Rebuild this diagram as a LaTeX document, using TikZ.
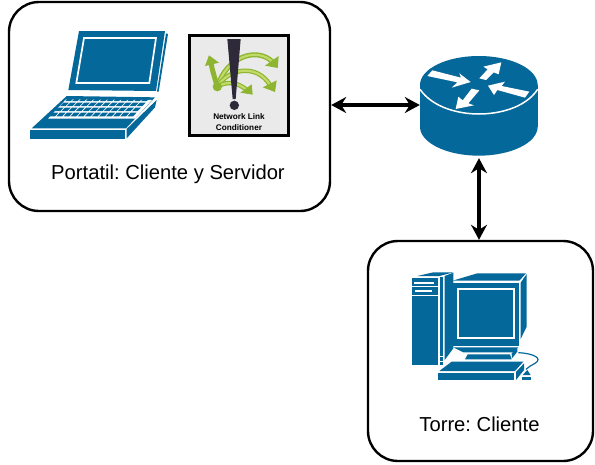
\documentclass[tikz,border=0pt]{standalone}
\usepackage{fontspec}
\setmainfont{Liberation Sans}
\usetikzlibrary{arrows.meta}
\definecolor{cisco}{HTML}{05689A}
\definecolor{lime1}{HTML}{8DB52F}
\definecolor{lime2}{HTML}{C2DA6A}
\definecolor{nlcgrey}{HTML}{EAEAEA}
\definecolor{nlcdark}{HTML}{2E2A3A}
\tikzset{
  x=1pt,y=-1pt,
  hostbox/.style={draw=black,line width=2.4pt,rounded corners=30pt,fill=white,inner sep=0pt},
  hostlabel/.style={font=\fontsize{20.2}{22}\selectfont,inner sep=0pt},
  link/.style={line width=3.1pt,{Stealth[length=15pt,width=16pt,inset=5pt]}-{Stealth[length=15pt,width=16pt,inset=5pt]}},
  dk/.style={fill=cisco,draw=none},
  wh/.style={fill=white,draw=none},
  icon/.style={scale=0.33333},
  grn/.style={draw=lime1,line width=5pt,line cap=round},
  grni/.style={draw=lime2,line width=2.2pt,line cap=round},
  grnh/.style={fill=lime1,draw=none}
}
\begin{document}
\frenchspacing
\begin{tikzpicture}
\useasboundingbox (0,0) rectangle (595,464);
% boxes
\node[hostbox,minimum width=321pt,minimum height=209pt] (portatil) at (169.5,106.5) {};
\node[hostbox,minimum width=225pt,minimum height=220pt] (torre) at (480.5,351) {};
\node[hostlabel] (lblp) at (168,174) {Portatil: Cliente y Servidor};
\node[hostlabel] (lblt) at (479.5,424) {Torre: Cliente};
% laptop
\begin{scope}[shift={(20,20)},icon]
  \fill[dk] (177,33)--(435,33)--(408,213)--(145,210)--cycle;
  \fill[dk] (438,40)--(444,42)--(416,215)--(411,215)--cycle;
  \draw[white,line width=1.7pt,line join=miter] (192,54)--(408,54)--(388,189)--(169,189)--cycle;
  \fill[dk] (140,228)--(405,232)--(318,325)--(35,325)--cycle;
  \fill[dk] (30,329)--(315,329)--(315,356)--(30,356)--cycle;
  \fill[dk] (320,327)--(410,240)--(405,262)--(320,355)--cycle;
  \fill[white] (138,238)--(396,240)--(345,296)--(84,296)--cycle;
  \foreach \yt/\yb/\xa/\dx in {
     232/243/146/20.7,
     248/258/130/20.9,
     263/273/114/21.1,
     278/289/98/21.3}{
     \foreach \k in {0,...,11}{
       \pgfmathsetmacro{\xl}{\xa+\k*\dx}
       \pgfmathsetmacro{\xr}{\xl+\dx-4}
       \fill[dk] (\xl,\yt)--(\xr,\yt)--(\xr-10,\yb)--(\xl-10,\yb)--cycle;
     }
  }
\end{scope}
% network link conditioner icon
\draw[black,line width=3.4pt,fill=nlcgrey] (189.7,35.7) rectangle (288.3,135.3);
\begin{scope}[shift={(185,30)},icon]
  \draw[grn] (97,170) .. controls (88,140) and (82,120) .. (78,100);
  \fill[grnh] (60,108)--(72,76)--(102,98)--cycle;
  \draw[grn] (97,170) .. controls (125,80) and (215,50) .. (262,95);
  \draw[grni] (97,170) .. controls (125,80) and (215,50) .. (262,95);
  \fill[grnh] (281,78)--(278,114)--(240,107)--cycle;
  \draw[grn,line width=4.5pt] (97,170) .. controls (130,115) and (215,100) .. (255,165);
  \draw[grni] (97,170) .. controls (130,115) and (215,100) .. (255,165);
  \fill[grnh] (275,151)--(270,186)--(233,172)--cycle;
  \draw[grn,line width=4.5pt] (97,170) .. controls (130,150) and (160,160) .. (183,178);
  \draw[grni] (97,170) .. controls (130,150) and (160,160) .. (183,178);
  \fill[grnh] (200,163)--(203,194)--(166,188)--cycle;
  \fill[lime1] (97,170) circle (14);
  \fill[nlcdark] (127,27)--(167,27)--(152,207)--(143,207)--cycle;
  \fill[nlcdark] (148,226) circle (14);
\end{scope}
\node[inner sep=0pt,align=center,font=\bfseries\fontsize{8.2}{10.2}\selectfont] (nlc) at (239,122) {Network Link\\Conditioner};
% router
\node[inner sep=0pt,minimum width=118pt,minimum height=112pt] (router) at (479,102) {};
\begin{scope}[shift={(400,40)},icon]
  \fill[dk] (60,135) rectangle (413,260);
  \fill[dk] (236.5,260) ellipse[x radius=176.5,y radius=87];
  \fill[dk] (236.5,135) ellipse[x radius=176.5,y radius=87];
  \draw[white,line width=1.5pt] (60,148) .. controls (100,205) and (180,222) .. (236,222) .. controls (295,222) and (375,205) .. (413,148);
  \fill[wh] (82,108)--(97,91)--(183,113)--(178,100)--(212,126)--(155,143)--(172,127)--cycle;
  \fill[wh] (304,67)--(250,80)--(263,88)--(238,115)--(258,120)--(281,97)--(296,103)--cycle;
  \fill[wh] (264,137)--(315,125)--(305,138)--(388,155)--(375,173)--(292,150)--(282,165)--cycle;
  \fill[wh] (167,207)--(175,170)--(188,181)--(215,146)--(238,151)--(205,190)--(222,196)--cycle;
\end{scope}
% tower
\begin{scope}[shift={(400,260)},icon]
  \fill[dk] (52,48)--(100,37)--(160,37)--(118,48)--cycle;
  \fill[dk] (35,55)--(115,55)--(115,316)--(35,316)--cycle;
  \fill[wh] (42,65)--(103,65)--(103,71)--(42,71)--cycle;
  \fill[wh] (35,78)--(115,78)--(115,82)--(35,82)--cycle;
  \fill[wh] (45,90)--(97,90)--(97,96)--(45,96)--cycle;
  \fill[wh] (35,104)--(115,104)--(115,108)--(35,108)--cycle;
  \fill[dk] (119,50)--(130,50)--(130,316)--(119,316)--cycle;
  \fill[dk] (134,48)--(160,38)--(160,265)--(134,300)--cycle;
  \fill[wh] (119,288)--(130,288)--(130,292)--(119,292)--cycle;
  \fill[wh] (119,302)--(130,302)--(130,305)--(119,305)--cycle;
  \fill[dk] (158,62)--(232,40)--(378,40)--(358,62)--cycle;
  \fill[dk] (156,68)--(358,68)--(358,257)--(156,257)--cycle;
  \draw[white,line width=1.7pt] (173,88)--(342,88)--(342,233)--(173,233)--cycle;
  \fill[dk] (362,68)--(380,42)--(380,200)--(362,237)--cycle;
  \fill[dk] (160,262)--(355,262)--(340,277)--(190,277)--cycle;
  \fill[dk] (203,283)--(330,283)--(335,298)--(195,298)--cycle;
  \fill[dk] (335,280)--(352,265)--(352,275)--(336,295)--cycle;
  \fill[dk] (155,305)--(370,305)--(345,333)--(118,333)--cycle;
  \fill[dk] (113,338)--(343,338)--(343,360)--(113,360)--cycle;
  \fill[dk] (348,336)--(372,310)--(372,330)--(348,360)--cycle;
  \draw[cisco,line width=1.2pt] (355,278) .. controls (400,280) and (430,295) .. (405,310) .. controls (395,316) and (385,320) .. (378,328);
  \fill[dk] (368,345)--(382,330)--(392,345)--cycle;
  \fill[dk] (365,350)--(392,350)--(392,360)--(365,360)--cycle;
\end{scope}
% links
\coordinate (pe) at ([yshift=1.5pt]portatil.east);
\draw[link] (pe) -- (pe -| router.west);
\draw[link] (router.south) -- (router.south |- torre.north);
\end{tikzpicture}
\end{document}
